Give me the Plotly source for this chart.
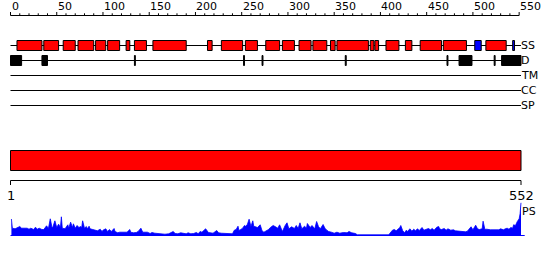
import plotly.graph_objects as go

# ---------------- data ----------------
seq_length = 552
ruler_minor = list(range(0, 551, 10))
ruler_major = list(range(0, 551, 50))
track_names = ["SS", "D", "TM", "CC", "SP"]

helix = [(8, 34), (37, 52), (58, 70), (74, 90), (93, 103), (106, 118), (126, 129),
         (135, 147), (155, 190), (214, 218), (229, 251), (255, 267), (277, 291),
         (295, 307), (313, 325), (328, 342), (347, 351), (354, 387), (390, 393),
         (395, 398), (407, 420), (428, 434), (444, 466), (469, 493), (515, 536)]
strand = [(503, 509), (544, 545)]
disorder = [(1, 12), (35, 40), (135, 135), (253, 253), (273, 273), (363, 363),
            (473, 473), (486, 499), (524, 524), (532, 552)]
domains = [(1, 552)]
end_labels = ["1", "552"]

ps_pos = [1, 2, 5, 9, 10, 12, 15, 18, 20, 22, 25, 27, 29, 31, 34, 36, 39, 41, 43, 45,
          46, 48, 50, 52, 54, 55, 56, 59, 62, 63, 65, 67, 68, 70, 72, 74, 76, 77, 78, 80,
          82, 83, 85, 86, 89, 91, 94, 97, 99, 100, 103, 105, 107, 109, 112, 113, 116, 118, 122, 126,
          129, 130, 133, 136, 138, 141, 143, 145, 148, 151, 153, 156, 159, 162, 167, 171, 173, 176, 178, 181,
          184, 187, 190, 192, 195, 198, 201, 203, 205, 207, 209, 211, 214, 217, 219, 223, 225, 228, 232, 236,
          240, 242, 244, 246, 247, 249, 251, 253, 254, 256, 258, 260, 262, 263, 265, 267, 270, 272, 274, 277,
          279, 281, 284, 286, 289, 291, 294, 297, 299, 301, 304, 307, 309, 311, 313, 315, 318, 320, 321, 324,
          326, 329, 331, 333, 335, 338, 340, 342, 344, 347, 350, 353, 356, 360, 364, 366, 369, 373, 375, 409,
          411, 413, 415, 417, 419, 421, 422, 424, 426, 428, 429, 432, 434, 436, 438, 440, 442, 445, 447, 449,
          452, 454, 456, 458, 461, 463, 464, 466, 469, 471, 473, 476, 479, 481, 484, 488, 492, 494, 496, 498,
          500, 502, 503, 505, 507, 510, 511, 513, 515, 519, 522, 525, 528, 530, 533, 535, 537, 539, 541, 543,
          544, 546, 547, 548, 550, 551, 552]
ps_val = [16.5, 7.3, 6.7, 8, 9, 7.3, 7, 7.3, 6.3, 7.3, 6, 8.3, 6.3, 7.3, 6, 6, 9.7, 7, 16.7, 7.3,
          9, 14.7, 8, 11.3, 8, 18.7, 7.3, 6.7, 10.7, 7.3, 13.3, 8, 11.7, 7.3, 10, 8, 9, 8, 14.7, 7.3,
          9, 6.7, 9.3, 6.7, 6, 5.7, 4.7, 6.3, 4, 5.3, 6.7, 4, 6, 4, 7, 4, 2.7, 3.3, 3, 3.3,
          6, 3.3, 2.7, 3, 4, 7.3, 3.3, 3, 3.3, 2, 3, 2.3, 2, 1.3, 1.3, 1.7, 2.7, 4, 2, 1.7,
          2.7, 2, 1.7, 2.7, 1.7, 2, 3, 1.7, 4, 3.3, 5, 6.7, 3, 2.3, 2.3, 5, 2.7, 2.3, 2, 1.7,
          1.7, 5.3, 6, 9.3, 5, 6, 7.3, 10, 9.3, 10.7, 16.3, 9, 14.7, 9.3, 9, 8, 10.7, 4.7, 3.3, 4.7,
          6, 8, 10, 9, 7.3, 10.7, 4, 10, 12.7, 6.7, 8.7, 7, 10, 7, 12.7, 6.7, 9.3, 7.3, 12, 8,
          10, 6.7, 14, 9, 6.7, 11, 7.3, 5.3, 4, 3.3, 2.3, 3.3, 2.3, 3, 2.7, 4, 2.7, 2, 0.7, 0.7,
          2.7, 5.3, 6, 4.7, 6.3, 8, 10, 5, 2.7, 5.3, 4, 6.7, 4.3, 6.3, 4.7, 6.7, 5, 8, 5.3, 6,
          7, 5.7, 7, 5.3, 8.3, 9, 6.7, 6, 7, 5.3, 6.7, 5.3, 5.7, 4.7, 4.3, 4, 3.7, 4.3, 6.7, 8.7,
          5.7, 8, 10.3, 6.7, 6, 6.7, 14.3, 6, 6.3, 5.7, 5.7, 5, 5.7, 6.7, 5.7, 6.7, 7.3, 6.3, 8, 7.3,
          10.7, 10, 12.7, 14, 16.7, 21.7, 32.7]

# ---------------- layout geometry (pixels) ----------------
W, H = 550, 260
px0, px_end = 10.5, 521.0            # pixel of residue 0 and residue 552
scale = (px_end - px0) / seq_length
x_range = [-px0 / scale, (W - px0) / scale]

track_y = {"SS": 45.5, "D": 60.5, "TM": 75.5, "CC": 90.5, "SP": 105.5}
ps_base_px, ps_top_px, ps_top_val = 235.5, 201.5, 34

fig = go.Figure()

fig.add_trace(go.Scatter(
    x=ps_pos, y=ps_val, mode="lines", fill="tozeroy",
    line=dict(color="#0000FF", width=0.8), fillcolor="#0000FF",
    xaxis="x", yaxis="y2", hoverinfo="skip", showlegend=False))

shapes = []
annotations = []

# top ruler
shapes.append(dict(type="line", xref="x", yref="y", x0=ruler_minor[0], x1=ruler_minor[-1],
                   y0=15.5, y1=15.5, line=dict(color="black", width=1)))
for t in ruler_minor:
    top = 12 if t in ruler_major else 13.3
    shapes.append(dict(type="line", xref="x", yref="y", x0=t, x1=t, y0=top, y1=15.5,
                       line=dict(color="black", width=1)))
for t in ruler_major:
    annotations.append(dict(x=t, y=6.5, xref="x", yref="y", text=str(t), showarrow=False,
                            xanchor="left", yanchor="middle", xshift=-1,
                            font=dict(family="DejaVu Sans", size=11, color="black")))

# track base lines and labels
for name in track_names:
    y = track_y[name]
    shapes.append(dict(type="line", xref="x", yref="y", x0=0, x1=seq_length, y0=y, y1=y,
                       line=dict(color="black", width=1)))
    annotations.append(dict(x=seq_length, y=y - 0.5, xref="x", yref="y", text=name, showarrow=False,
                            xanchor="left", yanchor="middle", xshift=-2,
                            font=dict(family="DejaVu Sans", size=11, color="black")))

# secondary structure
for s, e in helix:
    shapes.append(dict(type="rect", xref="x", yref="y", x0=s - 1, x1=e, y0=40.5, y1=50.5,
                       fillcolor="#FF0000", line=dict(color="black", width=1)))
for s, e in strand:
    shapes.append(dict(type="rect", xref="x", yref="y", x0=s - 1, x1=e, y0=40.5, y1=50.5,
                       fillcolor="#0000FF", line=dict(color="black", width=1)))
# disorder
for s, e in disorder:
    shapes.append(dict(type="rect", xref="x", yref="y", x0=s - 1, x1=e, y0=55.5, y1=65.5,
                       fillcolor="black", line=dict(color="black", width=1)))

# domain bar
for s, e in domains:
    shapes.append(dict(type="rect", xref="x", yref="y", x0=s - 1, x1=e, y0=150.5, y1=170.5,
                       fillcolor="#FF0000", line=dict(color="black", width=1)))

# bottom ruler
shapes.append(dict(type="line", xref="x", yref="y", x0=0, x1=seq_length, y0=180.5, y1=180.5,
                   line=dict(color="black", width=1)))
for xpos, lab in zip([0, seq_length], end_labels):
    shapes.append(dict(type="line", xref="x", yref="y", x0=xpos, x1=xpos, y0=180.5, y1=185,
                       line=dict(color="black", width=1)))
    annotations.append(dict(x=xpos, y=195, xref="x", yref="y", text=lab, showarrow=False,
                            xanchor="center", yanchor="middle",
                            font=dict(family="DejaVu Sans", size=13, color="black")))

# PS baseline and label
shapes.append(dict(type="line", xref="x", yref="y", x0=0, x1=556, y0=ps_base_px, y1=ps_base_px,
                   line=dict(color="#0000FF", width=1)))
annotations.append(dict(x=seq_length, y=211, xref="x", yref="y", text="PS", showarrow=False,
                        xanchor="left", yanchor="middle", xshift=-1,
                        font=dict(family="DejaVu Sans", size=11, color="black")))

fig.update_layout(
    width=W, height=H, margin=dict(l=0, r=0, t=0, b=0, pad=0),
    paper_bgcolor="white", plot_bgcolor="white", showlegend=False,
    xaxis=dict(range=x_range, visible=False, fixedrange=True),
    yaxis=dict(range=[H, 0], domain=[0, 1], visible=False, fixedrange=True),
    yaxis2=dict(range=[0, ps_top_val], domain=[1 - ps_base_px / H, 1 - ps_top_px / H],
                visible=False, fixedrange=True, anchor="x"),
    shapes=shapes, annotations=annotations,
)

fig.write_html("out.html")
